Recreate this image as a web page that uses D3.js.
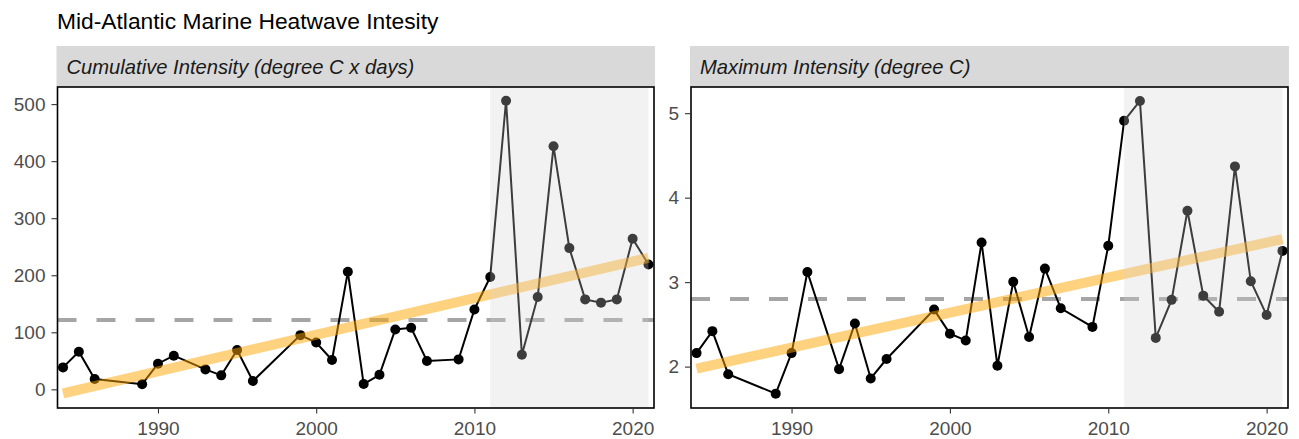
<!DOCTYPE html>
<html lang="en">
<head>
<meta charset="utf-8">
<script src="https://d3js.org/d3.v7.min.js"></script>
<style>
    body { margin: 0; background: white; font-family: 'Liberation Sans', Arial, sans-serif; }
    .title { font-size: 22.8px; fill: #000; }
    .strip-text { font-size: 20.2px; font-style: italic; fill: #1a1a1a; }
    .axis text { font-size: 19px; fill: #4d4d4d; font-family: 'Liberation Sans', Arial, sans-serif; }
    .axis line { stroke: #333; stroke-width: 1.1px; }
    .axis path { display: none; }
</style>
</head>
<body>
<script>
    // years with heatwave data
    var years = [1984, 1985, 1986, 1989, 1990, 1991, 1993, 1994, 1995, 1996, 1999, 2000,
                 2001, 2002, 2003, 2004, 2005, 2006, 2007, 2009, 2010, 2011, 2012, 2013,
                 2014, 2015, 2016, 2017, 2018, 2019, 2020, 2021];

    // cumulative intensity (degree C x days)
    var cumIntensity = [38.5, 66, 18, 9, 45, 59, 35, 24.5, 69, 14.5, 95, 82,
                        51.4, 206, 9.3, 25.6, 105, 108, 49.6, 52.5, 140, 197, 506, 60.6,
                        162, 426, 247.6, 157.7, 152, 157.7, 264, 219];

    // maximum intensity (degree C)
    var maxIntensity = [2.16, 2.42, 1.91, 1.68, 2.16, 3.12, 1.97, 2.51, 1.86, 2.09, 2.675, 2.39,
                        2.31, 3.47, 2.01, 3.005, 2.35, 3.16, 2.69, 2.47, 3.43, 4.91, 5.145, 2.34,
                        2.79, 3.845, 2.84, 2.65, 4.37, 3.01, 2.61, 3.37];

    var cumTrend = [-7, 230.6];     // linear trend at first/last year
    var maxTrend = [1.976, 3.51];
    var cumMean = 121.4;
    var maxMean = 2.80;
    var recentPeriod = [2011, 2021];
    var xTicks = [1990, 2000, 2010, 2020];
    var cumTicks = [0, 100, 200, 300, 400, 500];
    var maxTicks = [2, 3, 4, 5];

    var W = 1299, H = 439;
    var svg = d3.select("body").append("svg")
        .attr("width", W)
        .attr("height", H);

    svg.append("text")
        .attr("class", "title")
        .attr("x", 57)
        .attr("y", 28.5)
        .text("Mid-Atlantic Marine Heatwave Intesity");

    var panelTop = 87, panelBottom = 408, stripTop = 46;

    function drawPanel(opt) {
        var x = d3.scaleLinear().domain([1983.65, 2021.35]).range([opt.left, opt.right]);
        var y = d3.scaleLinear().domain(opt.yDomain).range([panelBottom, panelTop]);
        var g = svg.append("g");

        // strip
        g.append("rect")
            .attr("x", opt.left - 1)
            .attr("y", stripTop)
            .attr("width", opt.right - opt.left + 2)
            .attr("height", panelTop - stripTop)
            .attr("fill", "#d9d9d9");
        g.append("text")
            .attr("class", "strip-text")
            .attr("x", opt.left + 9)
            .attr("y", 74)
            .text(opt.label);

        var clipId = "clip" + opt.id;
        g.append("clipPath").attr("id", clipId)
            .append("rect")
            .attr("x", opt.left).attr("y", panelTop)
            .attr("width", opt.right - opt.left).attr("height", panelBottom - panelTop);
        var plot = g.append("g").attr("clip-path", "url(#" + clipId + ")");

        // long-term mean
        plot.append("line")
            .attr("x1", opt.left).attr("x2", opt.right)
            .attr("y1", y(opt.mean)).attr("y2", y(opt.mean))
            .attr("stroke", "#7f7f7f")
            .attr("stroke-opacity", 0.7)
            .attr("stroke-width", 4)
            .attr("stroke-dasharray", "19,20");

        var pts = years.map(function(yr, i) { return [yr, opt.values[i]]; });
        plot.append("path")
            .datum(pts)
            .attr("fill", "none")
            .attr("stroke", "#000")
            .attr("stroke-width", 2)
            .attr("d", d3.line().x(function(d) { return x(d[0]); }).y(function(d) { return y(d[1]); }));
        plot.selectAll(".pt")
            .data(pts)
            .enter().append("circle")
            .attr("cx", function(d) { return x(d[0]); })
            .attr("cy", function(d) { return y(d[1]); })
            .attr("r", 5)
            .attr("fill", "#000");

        // trend
        plot.append("line")
            .attr("x1", x(years[0])).attr("x2", x(years[years.length - 1]))
            .attr("y1", y(opt.trend[0])).attr("y2", y(opt.trend[1]))
            .attr("stroke", "#ffa500")
            .attr("stroke-opacity", 0.5)
            .attr("stroke-width", 10);

        // recent period shading, drawn over the data
        plot.append("rect")
            .attr("x", x(recentPeriod[0]))
            .attr("y", panelTop)
            .attr("width", x(recentPeriod[1]) - x(recentPeriod[0]))
            .attr("height", panelBottom - panelTop)
            .attr("fill", "rgb(210,210,210)")
            .attr("fill-opacity", 0.29);

        // panel border
        g.append("rect")
            .attr("x", opt.left).attr("y", panelTop)
            .attr("width", opt.right - opt.left).attr("height", panelBottom - panelTop)
            .attr("fill", "none")
            .attr("stroke", "#000")
            .attr("stroke-width", 1.6);

        g.append("g")
            .attr("class", "axis")
            .attr("transform", "translate(0," + panelBottom + ")")
            .call(d3.axisBottom(x).tickValues(xTicks).tickFormat(d3.format("d")).tickSize(5.5).tickPadding(8));
        g.append("g")
            .attr("class", "axis")
            .attr("transform", "translate(" + opt.left + ",0)")
            .call(d3.axisLeft(y).tickValues(opt.yTicks).tickFormat(d3.format("d")).tickSize(6).tickPadding(6));
    }

    drawPanel({
        id: "cum", left: 57.5, right: 654,
        yDomain: [-32.7, 530], yTicks: cumTicks,
        values: cumIntensity, trend: cumTrend, mean: cumMean,
        label: "Cumulative Intensity (degree C x days)"
    });
    drawPanel({
        id: "max", left: 691, right: 1288,
        yDomain: [1.51, 5.31], yTicks: maxTicks,
        values: maxIntensity, trend: maxTrend, mean: maxMean,
        label: "Maximum Intensity (degree C)"
    });
</script>
</body>
</html>
